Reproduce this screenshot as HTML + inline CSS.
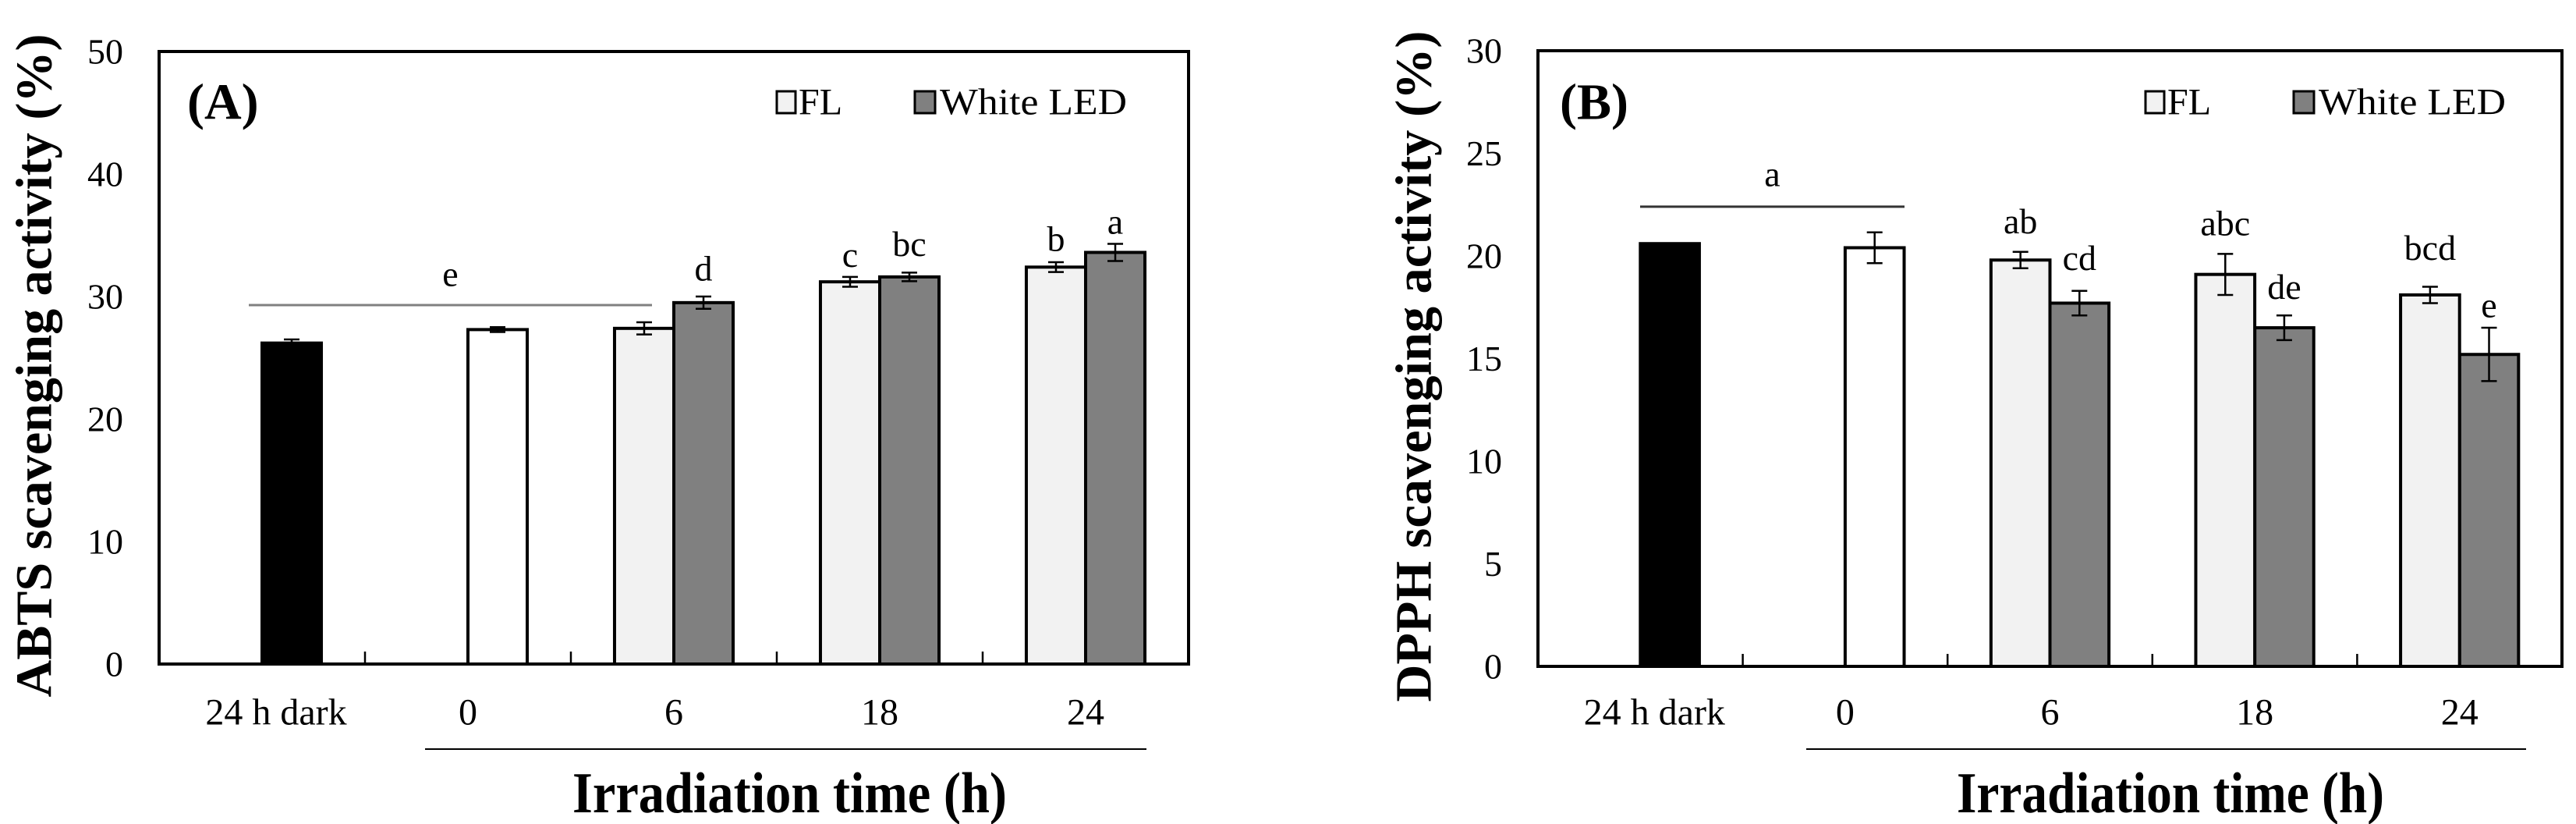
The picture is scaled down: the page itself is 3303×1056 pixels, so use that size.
<!DOCTYPE html>
<html><head><meta charset="utf-8"><style>
html,body{margin:0;padding:0;background:#fff;}
svg{display:block;font-family:"Liberation Serif",serif;}
</style></head><body>
<svg id="chart" width="3303" height="1056" viewBox="0 0 3303 1056" xmlns="http://www.w3.org/2000/svg"></svg>
<script>
// Panel A data (ABTS)
const categories = ["24 h dark","0","6","18","24"];
const abtsFL = [null, null, 27.4, 31.2, 32.4];
const abtsLED = [26.2, 27.3, 29.5, 31.6, 33.6];
const abtsFLErr = [null, null, 0.5, 0.4, 0.4];
const abtsLEDErr = [0.3, 0.2, 0.5, 0.35, 0.7];
const abtsFLLetters = ["", "", "", "c", "b"];
const abtsLEDLetters = ["", "", "d", "bc", "a"];
const abtsFLLetterY = [0, 0, 0, 33.4, 34.7];
const abtsLEDLetterY = [0, 0, 32.3, 34.3, 36.1];
const abtsTicks = [0,10,20,30,40,50];
// Panel B data (DPPH)
const dpphFL = [null, null, 19.8, 19.1, 18.1];
const dpphLED = [20.6, 20.4, 17.7, 16.5, 15.2];
const dpphFLErr = [null, null, 0.4, 1.0, 0.4];
const dpphLEDErr = [0.05, 0.75, 0.6, 0.6, 1.3];
const dpphFLLetters = ["", "", "ab", "abc", "bcd"];
const dpphLEDLetters = ["", "", "cd", "de", "e"];
const dpphFLLetterY = [0, 0, 21.7, 21.6, 20.4];
const dpphLEDLetterY = [0, 0, 19.9, 18.5, 17.6];
const dpphTicks = [0,5,10,15,20,25,30];

const NS="http://www.w3.org/2000/svg";
const svg=document.getElementById('chart');
function mk(tag,attrs,parent){const e=document.createElementNS(NS,tag);for(const k in attrs)e.setAttribute(k,attrs[k]);(parent||svg).appendChild(e);return e;}

function panel(o){
  const g=mk('g',{});
  
  
  const L=o.left,R=o.right,T=o.top,B=o.bottom;
  const yS=v=>B-(v/o.ymax)*(B-T);
  const cw=(R-L)/categories.length;
  const cx=i=>L+cw*(i+0.5);
  const bw=cw*0.288;
  // bars
  for(let i=0;i<categories.length;i++){
    const led=o.led[i];
    if(led!=null){
      const fill=i===0?'#000':(i===1?'#fff':'#808080');
      const r=mk('rect',{x:cx(i),y:yS(led),width:bw,height:B-yS(led),fill:fill,stroke:'#000','stroke-width':4},g);
      
      
      const e=o.ledErr[i];
      if(e>0.06){
        const eb=mk('path',{d:`M${cx(i)+bw/2},${yS(led+e)}V${yS(led-e)}M${cx(i)+bw/2-10},${yS(led+e)}h20M${cx(i)+bw/2-10},${yS(led-e)}h20`,stroke:'#000','stroke-width':2.5,fill:'none'},g);
        
        
      }
    }
    const fl=o.fl[i];
    if(fl!=null){
      const r=mk('rect',{x:cx(i)-bw,y:yS(fl),width:bw,height:B-yS(fl),fill:'#f2f2f2',stroke:'#000','stroke-width':4},g);
      
      
      const e=o.flErr[i];
      const eb=mk('path',{d:`M${cx(i)-bw/2},${yS(fl+e)}V${yS(fl-e)}M${cx(i)-bw/2-10},${yS(fl+e)}h20M${cx(i)-bw/2-10},${yS(fl-e)}h20`,stroke:'#000','stroke-width':2.5,fill:'none'},g);
      
      
    }
    if(o.ledLetters[i]){
      const t=mk('text',{x:cx(i)+bw/2,y:yS(o.ledLetterY[i]),'font-size':46,'text-anchor':'middle','dominant-baseline':'central'},g);
      t.textContent=o.ledLetters[i];
      
      
    }
    if(o.flLetters[i]){
      const t=mk('text',{x:cx(i)-bw/2,y:yS(o.flLetterY[i]),'font-size':46,'text-anchor':'middle','dominant-baseline':'central'},g);
      t.textContent=o.flLetters[i];
      
      
    }
    const cl=mk('text',{x:cx(i)+(i===0?18:0),y:913,'font-size':48,'text-anchor':'middle','dominant-baseline':'central'},g);
    cl.textContent=categories[i];
    
    
    if(i>0){mk('line',{x1:L+cw*i,x2:L+cw*i,y1:B,y2:B-16,stroke:'#000','stroke-width':2.5},g);}
  }
  // group line
  const gl=mk('line',{x1:o.gx1,x2:o.gx2,y1:yS(o.gy),y2:yS(o.gy),stroke:o.gcol,'stroke-width':3},g);
  
  
  const gt=mk('text',{x:(o.gx1+o.gx2)/2,y:yS(o.gy)-(o.prefix==='abts'?40:42),'font-size':46,'text-anchor':'middle','dominant-baseline':'central'},g);
  gt.textContent=o.gletter;
  
  
  // frame
  const fr=mk('rect',{x:L,y:T,width:R-L,height:B-T,fill:'none',stroke:'#000','stroke-width':4},g);
  
  
  o.ticks.forEach(v=>{
    const t=mk('text',{x:L-46,y:yS(v),'font-size':46,'text-anchor':'end','dominant-baseline':'central'},g);
    t.textContent=v;
    
    
  });
  // axis titles
  const yt=mk('text',{x:o.ytx,y:(T+B)/2+10,'font-size':66,'font-weight':'bold','text-anchor':'middle','dominant-baseline':'central',transform:`rotate(-90 ${o.ytx} ${(T+B)/2+10})`,textLength:o.ytLen,lengthAdjust:'spacingAndGlyphs'},g);
  yt.textContent=o.ytitle;
  
  
  mk('line',{x1:o.ux1,x2:o.ux2,y1:960,y2:960,stroke:'#000','stroke-width':2},g);
  const xt=mk('text',{x:(o.xt1+o.xt2)/2,y:1017,'font-size':74,'font-weight':'bold','text-anchor':'middle','dominant-baseline':'central',textLength:o.xt2-o.xt1,lengthAdjust:'spacingAndGlyphs'},g);
  xt.textContent='Irradiation time (h)';
  
  
  // panel label
  const pl=mk('text',{x:o.plx,y:131,'font-size':66,'font-weight':'bold','dominant-baseline':'central'},g);
  pl.textContent=o.label;
  
  
  // legend
  const lb1=mk('rect',{x:o.lx1,y:117,width:24,height:28,fill:'#f2f2f2',stroke:'#000','stroke-width':3},g);
  
  
  const lt1=mk('text',{x:o.lx1+28,y:131,'font-size':48,'dominant-baseline':'central'},g);
  lt1.textContent='FL';
  
  
  const lb2=mk('rect',{x:o.lx2,y:117,width:26,height:28,fill:'#808080',stroke:'#000','stroke-width':3},g);
  
  
  const lt2=mk('text',{x:o.lx2+32,y:131,'font-size':48,'dominant-baseline':'central',textLength:240,lengthAdjust:'spacingAndGlyphs'},g);
  lt2.textContent='White LED';
  
  
}

panel({prefix:'abts',left:204,right:1524,top:66,bottom:851,ymax:50,ticks:abtsTicks,
  fl:abtsFL,led:abtsLED,flErr:abtsFLErr,ledErr:abtsLEDErr,
  flLetters:abtsFLLetters,ledLetters:abtsLEDLetters,flLetterY:abtsFLLetterY,ledLetterY:abtsLEDLetterY,
  gx1:319,gx2:836,gy:29.3,gcol:'#808080',gletter:'e',
  ytx:44,ytLen:850,ytitle:'ABTS scavenging activity (%)',
  ux1:545,ux2:1470,xt1:734,xt2:1291,plx:240,label:'(A)',lx1:996,lx2:1173});
panel({prefix:'dpph',left:1972,right:3285,top:65,bottom:854,ymax:30,ticks:dpphTicks,
  fl:dpphFL,led:dpphLED,flErr:dpphFLErr,ledErr:dpphLEDErr,
  flLetters:dpphFLLetters,ledLetters:dpphLEDLetters,flLetterY:dpphFLLetterY,ledLetterY:dpphLEDLetterY,
  gx1:2103,gx2:2442,gy:22.4,gcol:'#333',gletter:'a',
  ytx:1813,ytLen:860,ytitle:'DPPH scavenging activity (%)',
  ux1:2316,ux2:3239,xt1:2509,xt2:3057,plx:2000,label:'(B)',lx1:2751,lx2:2941});
</script>
</body></html>
